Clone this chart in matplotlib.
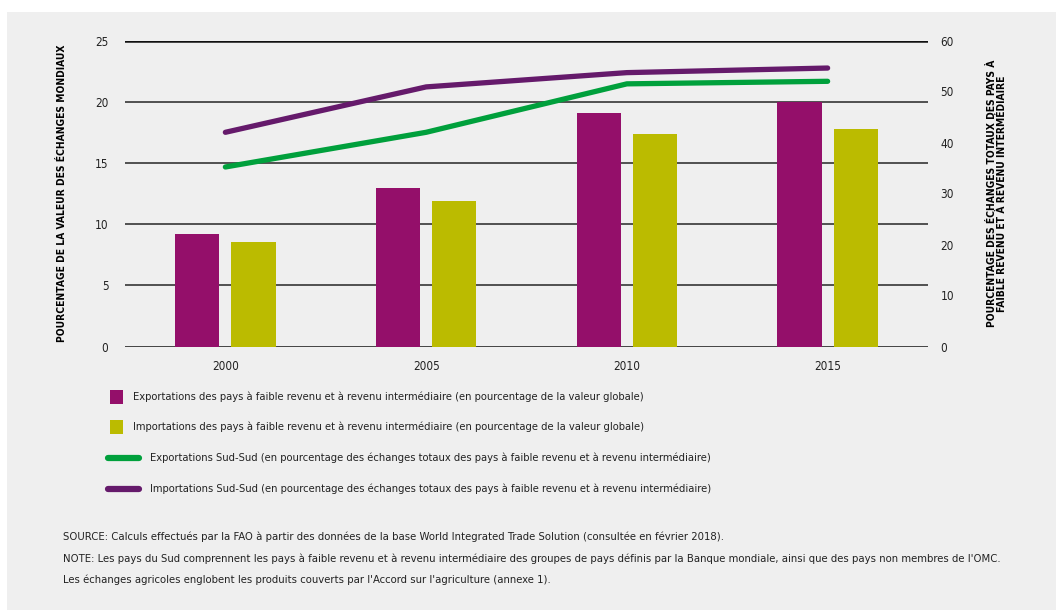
import matplotlib.pyplot as plt
from matplotlib.patches import Rectangle
from matplotlib.lines import Line2D

plt.rcParams['font.family'] = ['DejaVu Sans']
plt.rcParams['font.stretch'] = 'condensed'

years = ['2000', '2005', '2010', '2015']
exports_share = [9.2, 12.95, 19.05, 20.0]
imports_share = [8.5, 11.85, 17.35, 17.75]
south_exports = [35.2, 42.0, 51.5, 52.0]
south_imports = [42.0, 50.9, 53.7, 54.6]

c_exp = '#940f6a'
c_imp = '#bbbb00'
c_green = '#00a03c'
c_purple = '#651a6b'
bg = '#efefef'

fig = plt.figure(figsize=(10.56, 6.10), dpi=100)
fig.patch.set_facecolor('white')
fig.add_artist(Rectangle((7 / 1056, 0), 1 - 7 / 1056, 1 - 12 / 610,
                         transform=fig.transFigure, facecolor=bg,
                         edgecolor='none', zorder=0))

ax = fig.add_axes([125 / 1056, 1 - 346.5 / 610, 803 / 1056, 306 / 610])
ax.set_facecolor('none')
x = list(range(len(years)))
w = 0.22
ax.bar([i - 0.14 for i in x], exports_share, w, color=c_exp, zorder=3)
ax.bar([i + 0.14 for i in x], imports_share, w, color=c_imp, zorder=3)
ax.set_xlim(-0.5, 3.5)
ax.set_ylim(0, 25)
ax.set_yticks(range(0, 26, 5))
for v in range(0, 26, 5):
    lw = 1.8 if v in (0, 25) else 1.3
    col = '#111111' if v in (0, 25) else '#444444'
    ax.axhline(v, color=col, lw=lw, zorder=1)
ax.set_xticks(x)
ax.set_xticklabels(years)
for s in ax.spines.values():
    s.set_visible(False)
ax.tick_params(length=0, labelsize=8.5, colors='#222222')
ax.tick_params(axis='y', pad=12)
ax.tick_params(axis='x', pad=10)
ax.set_ylabel('POURCENTAGE DE LA VALEUR DES ÉCHANGES MONDIAUX',
              fontsize=7.4, fontweight='bold', labelpad=20)

ax2 = ax.twinx()
ax2.plot(x, south_exports, color=c_green, lw=3.8, solid_capstyle='round', zorder=4)
ax2.plot(x, south_imports, color=c_purple, lw=3.8, solid_capstyle='round', zorder=4)
ax2.set_ylim(0, 60)
ax2.set_yticks(range(0, 61, 10))
for s in ax2.spines.values():
    s.set_visible(False)
ax2.tick_params(length=0, labelsize=8.5, colors='#222222', pad=9)
ax2.set_ylabel('POURCENTAGE DES ÉCHANGES TOTAUX DES PAYS À\nFAIBLE REVENU ET À REVENU INTERMÉDIAIRE',
               fontsize=7.4, fontweight='bold', rotation=90, labelpad=24,
               linespacing=1.0)

# legend drawn by hand
W, H = 1056, 610
def fy(py):
    return 1 - py / H

legend_rows = [
    ('patch', c_exp, 'Exportations des pays à faible revenu et à revenu intermédiaire (en pourcentage de la valeur globale)'),
    ('patch', c_imp, 'Importations des pays à faible revenu et à revenu intermédiaire (en pourcentage de la valeur globale)'),
    ('line', c_green, 'Exportations Sud-Sud (en pourcentage des échanges totaux des pays à faible revenu et à revenu intermédiaire)'),
    ('line', c_purple, 'Importations Sud-Sud (en pourcentage des échanges totaux des pays à faible revenu et à revenu intermédiaire)'),
]
row_y = [397, 427, 458, 489]
for (kind, col, label), py in zip(legend_rows, row_y):
    if kind == 'patch':
        fig.add_artist(Rectangle((110 / W, fy(py + 7)), 13 / W, 14 / H,
                                 transform=fig.transFigure, facecolor=col,
                                 edgecolor='none'))
        tx = 133
    else:
        fig.add_artist(Line2D([108 / W, 139 / W], [fy(py), fy(py)],
                              transform=fig.transFigure, color=col, lw=4.5,
                              solid_capstyle='round'))
        tx = 150
    fig.text(tx / W, fy(py), label, fontsize=8, va='center', ha='left',
             color='#222222')

notes = [
    "SOURCE: Calculs effectués par la FAO à partir des données de la base World Integrated Trade Solution (consultée en février 2018).",
    "NOTE: Les pays du Sud comprennent les pays à faible revenu et à revenu intermédiaire des groupes de pays définis par la Banque mondiale, ainsi que des pays non membres de l'OMC.",
    "Les échanges agricoles englobent les produits couverts par l'Accord sur l'agriculture (annexe 1).",
]
for note, py in zip(notes, [537, 559, 580]):
    fig.text(63 / W, fy(py), note, fontsize=8.15, va='center', ha='left',
             color='#222222')

fig.savefig('out.png', dpi=100, facecolor=fig.get_facecolor())
